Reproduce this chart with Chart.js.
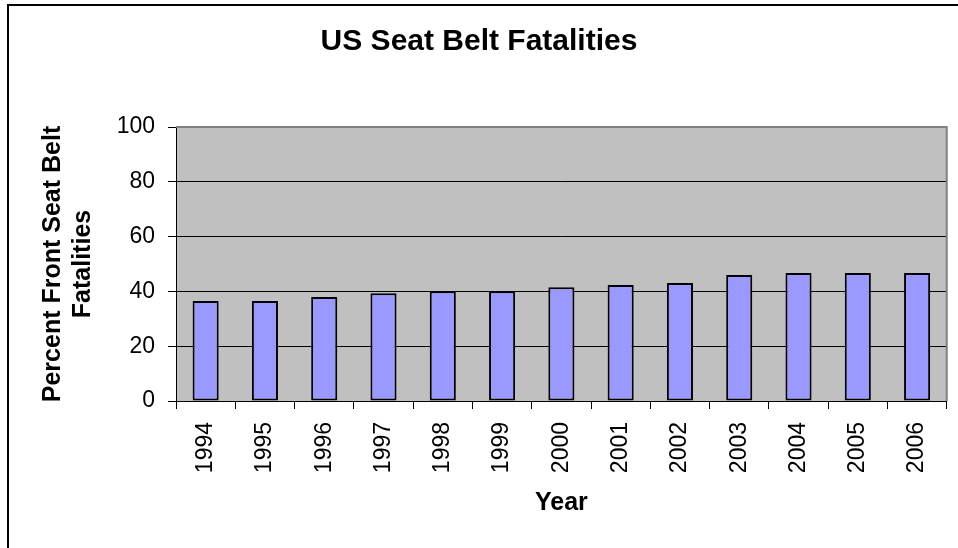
<!DOCTYPE html>
<html>
<head>
    <title>US Seat Belt Fatalities</title>
    <style type="text/css">
        body { margin: 0; background: #ffffff; }
        #chart-container { width: 958px; height: 548px; }
    </style>
    <script type="text/javascript" src="https://cdn.jsdelivr.net/npm/chart.js@4.4.0/dist/chart.umd.min.js"></script>
</head>
<body>

<div id="chart-container">
    <canvas id="graphCanvas" width="958" height="548"></canvas>
</div>

<script>
    // values
    var years = ['1994', '1995', '1996', '1997', '1998', '1999', '2000',
                 '2001', '2002', '2003', '2004', '2005', '2006'];
    var percentFatalities = [36.5, 36.5, 38.0, 39.3, 40.1, 40.1, 41.5,
                             42.3, 43.1, 46.0, 46.7, 46.7, 46.7];
    var yTicks = [0, 20, 40, 60, 80, 100];

    var fontFamily = '"Liberation Sans", Arial, sans-serif';

    // white page, outer frame, grey plot area
    var backdrop = {
        id: 'backdrop',
        beforeDraw: function (chart) {
            var ctx = chart.ctx, a = chart.chartArea;
            ctx.save();
            ctx.fillStyle = '#ffffff';
            ctx.fillRect(0, 0, chart.width, chart.height);
            ctx.strokeStyle = '#000000';
            ctx.lineWidth = 2;
            ctx.strokeRect(8, 5, 1000, 1000);
            ctx.fillStyle = '#C0C0C0';
            ctx.fillRect(a.left, a.top, a.right - a.left, a.bottom - a.top);
            ctx.restore();
        },
        beforeDatasetsDraw: function (chart) {
            var ctx = chart.ctx, a = chart.chartArea;
            ctx.save();
            ctx.strokeStyle = '#808080';
            ctx.lineWidth = 2;
            ctx.beginPath();
            ctx.moveTo(a.left, a.top);
            ctx.lineTo(a.right, a.top);
            ctx.lineTo(a.right, a.bottom);
            ctx.stroke();
            ctx.restore();
        }
    };

    var chartdata = {
        labels: years,
        datasets: [
            {
                label: 'Percent Front Seat Belt Fatalities',
                backgroundColor: '#9999FF',
                borderColor: '#000000',
                borderWidth: 2,
                borderSkipped: false,
                barPercentage: 0.44,
                categoryPercentage: 1.0,
                data: percentFatalities
            }
        ]
    };

    var barGraph = new Chart(document.getElementById('graphCanvas'), {
        type: 'bar',
        data: chartdata,
        plugins: [backdrop],
        options: {
            responsive: false,
            animation: false,
            layout: { padding: { left: 0, right: 0, top: 0, bottom: 0 } },
            plugins: {
                legend: { display: false },
                tooltip: { enabled: false },
                title: {
                    display: true,
                    text: 'US Seat Belt Fatalities',
                    color: '#000000',
                    font: { family: fontFamily, size: 30, weight: 'bold', lineHeight: 1.2 },
                    padding: { top: 24, bottom: 67 }
                }
            },
            scales: {
                x: {
                    offset: true,
                    afterFit: function (scale) { scale.height = 147; },
                    border: { display: true, color: '#000000', width: 1 },
                    grid: {
                        offset: true,
                        drawOnChartArea: false,
                        drawTicks: true,
                        tickLength: 8,
                        tickColor: '#000000'
                    },
                    ticks: {
                        color: '#000000',
                        minRotation: 90,
                        maxRotation: 90,
                        padding: 13,
                        font: { family: fontFamily, size: 23 }
                    },
                    title: {
                        display: true,
                        text: 'Year',
                        color: '#000000',
                        font: { family: fontFamily, size: 25, weight: 'bold', lineHeight: 1.2 },
                        padding: { top: 0, bottom: 30 }
                    }
                },
                y: {
                    min: 0,
                    max: 100,
                    afterFit: function (scale) { scale.width = 176; },
                    afterBuildTicks: function (scale) {
                        scale.ticks = yTicks.map(function (v) { return { value: v }; });
                    },
                    border: { display: true, color: '#000000', width: 1 },
                    grid: {
                        color: function (c) {
                            return c.tick && c.tick.value === 100 ? '#808080' : '#000000';
                        },
                        lineWidth: 1,
                        drawTicks: true,
                        tickLength: 8,
                        tickColor: '#000000'
                    },
                    ticks: {
                        color: '#000000',
                        padding: 13,
                        font: { family: fontFamily, size: 23 }
                    },
                    title: {
                        display: true,
                        text: ['Percent Front Seat Belt', 'Fatalities'],
                        color: '#000000',
                        font: { family: fontFamily, size: 25, weight: 'bold', lineHeight: 1.2 },
                        padding: { top: 38, bottom: 0 }
                    }
                },
                yRight: {
                    position: 'right',
                    display: true,
                    afterFit: function (scale) { scale.width = 8; },
                    border: { display: false },
                    grid: { display: false },
                    ticks: { display: false }
                }
            }
        }
    });
</script>

</body>
</html>
